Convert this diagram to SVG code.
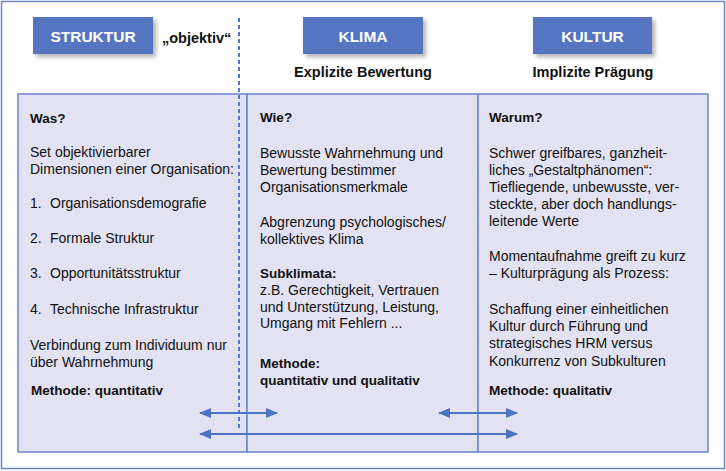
<svg xmlns="http://www.w3.org/2000/svg" width="726" height="471" viewBox="0 0 726 471">
<defs>
<style>
.t{font-family:"Liberation Sans",Arial,sans-serif;font-size:14px;fill:#111}
.b{font-weight:bold;font-size:13.5px}
.h{font-family:"Liberation Sans",Arial,sans-serif;font-size:15.5px;font-weight:bold;fill:#fff}
.s{font-family:"Liberation Sans",Arial,sans-serif;font-size:14.5px;font-weight:bold;fill:#111}
.hb{fill:#5674C0}
.col{fill:#E2E2F3;stroke:#6A86CC;stroke-width:1.5}
.ar{stroke:#4E73C3;stroke-width:2;fill:none}
</style>
<filter id="sh" x="-20%" y="-20%" width="150%" height="160%">
<feDropShadow dx="3" dy="3" stdDeviation="2" flood-color="#000" flood-opacity="0.3"/>
</filter>
<marker id="ah" viewBox="0 0 12 10" refX="11" refY="5" markerWidth="12" markerHeight="10" markerUnits="userSpaceOnUse" orient="auto-start-reverse">
<path d="M0,0 L12,5 L0,10 Z" fill="#4E73C3"/>
</marker>
</defs>
<rect x="1.5" y="1.5" width="723" height="467" fill="#fff" stroke="#6A86CC" stroke-width="1.5"/>

<g id="col-struktur">
<rect class="col" x="18" y="94" width="229" height="358"/>
<text class="t b" x="30" y="123">Was?</text>
<text class="t" x="30" y="157">Set objektivierbarer</text>
<text class="t" x="30" y="174">Dimensionen einer Organisation:</text>
<text class="t" x="30" y="208">1.</text><text class="t" x="50" y="208">Organisationsdemografie</text>
<text class="t" x="30" y="243">2.</text><text class="t" x="50" y="243">Formale Struktur</text>
<text class="t" x="30" y="278">3.</text><text class="t" x="50" y="278">Opportunitätsstruktur</text>
<text class="t" x="30" y="314">4.</text><text class="t" x="50" y="314">Technische Infrastruktur</text>
<text class="t" x="30" y="350">Verbindung zum Individuum nur</text>
<text class="t" x="30" y="367">über Wahrnehmung</text>
<text class="t b" x="31" y="395">Methode: quantitativ</text>
</g>

<g id="col-klima">
<rect class="col" x="247" y="94" width="231" height="358"/>
<text class="t b" x="260" y="122">Wie?</text>
<text class="t" x="260" y="158">Bewusste Wahrnehmung und</text>
<text class="t" x="260" y="175">Bewertung bestimmer</text>
<text class="t" x="260" y="192">Organisationsmerkmale</text>
<text class="t" x="260" y="227">Abgrenzung psychologisches/</text>
<text class="t" x="260" y="244">kollektives Klima</text>
<text class="t b" x="260" y="278">Subklimata:</text>
<text class="t" x="260" y="295">z.B. Gerechtigkeit, Vertrauen</text>
<text class="t" x="260" y="312">und Unterstützung, Leistung,</text>
<text class="t" x="260" y="328">Umgang mit Fehlern ...</text>
<text class="t b" x="260" y="368">Methode:</text>
<text class="t b" x="260" y="385">quantitativ und qualitativ</text>
</g>

<g id="col-kultur">
<rect class="col" x="478" y="94" width="230" height="358"/>
<text class="t b" x="489" y="122">Warum?</text>
<text class="t" x="489" y="158">Schwer greifbares, ganzheit-</text>
<text class="t" x="489" y="175">liches „Gestaltphänomen“:</text>
<text class="t" x="489" y="192">Tiefliegende, unbewusste, ver-</text>
<text class="t" x="489" y="209">steckte, aber doch handlungs-</text>
<text class="t" x="489" y="226">leitende Werte</text>
<text class="t" x="489" y="261">Momentaufnahme greift zu kurz</text>
<text class="t" x="489" y="278">– Kulturprägung als Prozess:</text>
<text class="t" x="489" y="314">Schaffung einer einheitlichen</text>
<text class="t" x="489" y="331">Kultur durch Führung und</text>
<text class="t" x="489" y="348">strategisches HRM versus</text>
<text class="t" x="489" y="366">Konkurrenz von Subkulturen</text>
<text class="t b" x="489" y="395">Methode: qualitativ</text>
</g>

<g id="hdr-struktur">
<rect class="hb" x="33" y="17" width="120" height="37" filter="url(#sh)"/>
<text class="h" x="93" y="42" text-anchor="middle">STRUKTUR</text>
</g>
<g id="lbl-objektiv">
<text class="s" x="162" y="43">„objektiv“</text>
</g>
<g id="hdr-klima">
<rect class="hb" x="303" y="17" width="120" height="37" filter="url(#sh)"/>
<text class="h" x="363" y="42" text-anchor="middle">KLIMA</text>
<text class="s" x="363" y="77" text-anchor="middle">Explizite Bewertung</text>
</g>
<g id="hdr-kultur">
<rect class="hb" x="533" y="17" width="119" height="37" filter="url(#sh)"/>
<text class="h" x="592.5" y="42" text-anchor="middle">KULTUR</text>
<text class="s" x="593" y="77" text-anchor="middle">Implizite Prägung</text>
</g>

<g id="connectors">
<line x1="239" y1="18" x2="239" y2="430" stroke="#5577C4" stroke-width="2" stroke-dasharray="4,3"/>
<line class="ar" x1="200" y1="413" x2="277" y2="413" marker-start="url(#ah)" marker-end="url(#ah)"/>
<line class="ar" x1="439" y1="413" x2="517" y2="413" marker-start="url(#ah)" marker-end="url(#ah)"/>
<line class="ar" x1="200" y1="434" x2="517" y2="434" marker-start="url(#ah)" marker-end="url(#ah)"/>
</g>
</svg>
